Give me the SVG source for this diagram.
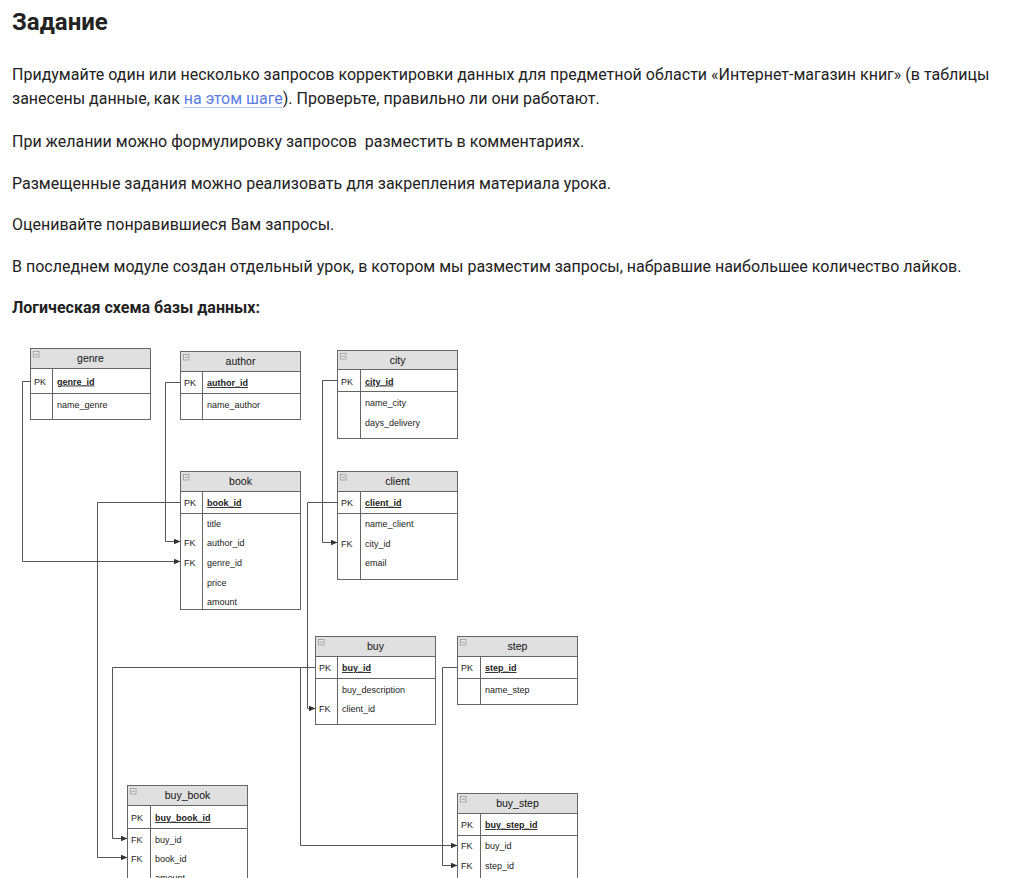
<svg xmlns="http://www.w3.org/2000/svg" width="1027" height="878" viewBox="0 0 1027 878">
<style>
.bg{fill:#fff}
.p{font-family:Roboto,"Noto Sans",sans-serif;font-size:16px;fill:#222}
.title{font-family:Roboto,"Noto Sans",sans-serif;font-size:24px;font-weight:700;fill:#222}
.sub{font-family:Roboto,"Noto Sans",sans-serif;font-size:16px;font-weight:700;fill:#222}
.link{fill:#5a7de6}
.bd{fill:#fff;stroke:#666;stroke-width:1}
.hd{fill:#e0e0e0;stroke:#666;stroke-width:1}
.ln{fill:none;stroke:#666;stroke-width:1}
.ic{fill:#e8e8e8;stroke:#999;stroke-width:0.8}
.t{font-family:"Liberation Sans",Arial,sans-serif;font-size:9px;fill:#222}
.pk{font-weight:bold;text-decoration:underline}
.h{font-family:"Liberation Sans",Arial,sans-serif;font-size:10.5px;fill:#111;text-anchor:middle}
.conn path{fill:none;stroke:#555;stroke-width:1}
</style>
<defs>
<marker id="arr" markerWidth="7" markerHeight="6" refX="7" refY="3" orient="auto" markerUnits="userSpaceOnUse">
<path d="M0,0L7,3L0,6z" fill="#333"/>
</marker>
<g id="minus"><rect class="ic" x="0" y="0" width="5.5" height="5.5"/><path d="M1.2,2.75H4.3" stroke="#888" stroke-width="0.8"/></g>
</defs>
<rect class="bg" x="0" y="0" width="1027" height="878"/>

<g id="text">
<text class="title" x="12" y="29.5">Задание</text>
<text class="p" x="12" y="80">Придумайте один или несколько запросов корректировки данных для предметной области «Интернет-магазин книг» (в таблицы</text>
<text class="p" x="12" y="104">занесены данные, как <tspan class="link">на этом шаге</tspan>). Проверьте, правильно ли они работают.</text>
<line x1="183" y1="107.5" x2="282" y2="107.5" stroke="#b5c6f2" stroke-width="1"/>
<text class="p" x="12" y="147" xml:space="preserve">При желании можно формулировку запросов  разместить в комментариях.</text>
<text class="p" x="12" y="188.5">Размещенные задания можно реализовать для закрепления материала урока.</text>
<text class="p" x="12" y="230">Оценивайте понравившиеся Вам запросы.</text>
<text class="p" x="12" y="271.5">В последнем модуле создан отдельный урок, в котором мы разместим запросы, набравшие наибольшее количество лайков.</text>
<text class="sub" x="12" y="312.5">Логическая схема базы данных:</text>
</g>

<g id="connectors" class="conn">
<path d="M30.5,381.5H22.5V561.5H180.5" marker-end="url(#arr)"/>
<path d="M180.5,382.5H165.5V541.5H180.5" marker-end="url(#arr)"/>
<path d="M337.5,380.5H322.5V542.5H337.5" marker-end="url(#arr)"/>
<path d="M180.5,502.5H97.5V857.5H127.5" marker-end="url(#arr)"/>
<path d="M337.5,502.5H307.5V708.5H315.5" marker-end="url(#arr)"/>
<path d="M315.5,667.5H112.5V838.5H127.5" marker-end="url(#arr)"/>
<path d="M315.5,667.5H300.5V845.5H457.5" marker-end="url(#arr)"/>
<path d="M457.5,667.5H442.5V865.5H457.5" marker-end="url(#arr)"/>
</g>

<g id="genre">
<rect class="bd" x="30.5" y="348.5" width="120" height="71"/>
<rect class="hd" x="30.5" y="348.5" width="120" height="20"/>
<path class="ln" d="M30.5,393.5H150.5M52.5,368.5V419.5"/>
<use href="#minus" x="33.5" y="351.5"/>
<text class="h" x="90.5" y="362">genre</text>
<text class="t" x="34" y="384.5">PK</text><text class="t pk" x="57" y="384.5">genre_id</text>
<text class="t" x="57" y="407.5">name_genre</text>
</g>

<g id="author">
<rect class="bd" x="180.5" y="351.5" width="120" height="68"/>
<rect class="hd" x="180.5" y="351.5" width="120" height="20"/>
<path class="ln" d="M180.5,393.5H300.5M202.5,371.5V419.5"/>
<use href="#minus" x="183.5" y="354.5"/>
<text class="h" x="240.5" y="365">author</text>
<text class="t" x="184" y="386">PK</text><text class="t pk" x="207" y="386">author_id</text>
<text class="t" x="207" y="407.5">name_author</text>
</g>

<g id="book">
<rect class="bd" x="180.5" y="471.5" width="120" height="138"/>
<rect class="hd" x="180.5" y="471.5" width="120" height="20"/>
<path class="ln" d="M180.5,513.5H300.5M202.5,491.5V609.5"/>
<use href="#minus" x="183.5" y="474.5"/>
<text class="h" x="240.5" y="485">book</text>
<text class="t" x="184" y="506">PK</text><text class="t pk" x="207" y="506">book_id</text>
<text class="t" x="207" y="526.5">title</text>
<text class="t" x="184" y="546">FK</text><text class="t" x="207" y="546">author_id</text>
<text class="t" x="184" y="566">FK</text><text class="t" x="207" y="566">genre_id</text>
<text class="t" x="207" y="585.5">price</text>
<text class="t" x="207" y="605">amount</text>
</g>

<g id="city">
<rect class="bd" x="337.5" y="350.5" width="120" height="88"/>
<rect class="hd" x="337.5" y="350.5" width="120" height="19"/>
<path class="ln" d="M337.5,391.5H457.5M360.5,369.5V438.5"/>
<use href="#minus" x="340.5" y="353.5"/>
<text class="h" x="397.5" y="364">city</text>
<text class="t" x="341" y="384.5">PK</text><text class="t pk" x="365" y="384.5">city_id</text>
<text class="t" x="365" y="405.5">name_city</text>
<text class="t" x="365" y="425.5">days_delivery</text>
</g>

<g id="client">
<rect class="bd" x="337.5" y="471.5" width="120" height="108"/>
<rect class="hd" x="337.5" y="471.5" width="120" height="20"/>
<path class="ln" d="M337.5,513.5H457.5M360.5,491.5V579.5"/>
<use href="#minus" x="340.5" y="474.5"/>
<text class="h" x="397.5" y="485">client</text>
<text class="t" x="341" y="506">PK</text><text class="t pk" x="365" y="506">client_id</text>
<text class="t" x="365" y="527">name_client</text>
<text class="t" x="341" y="546.5">FK</text><text class="t" x="365" y="546.5">city_id</text>
<text class="t" x="365" y="566">email</text>
</g>

<g id="buy">
<rect class="bd" x="315.5" y="636.5" width="120" height="88"/>
<rect class="hd" x="315.5" y="636.5" width="120" height="20"/>
<path class="ln" d="M315.5,678.5H435.5M337.5,656.5V724.5"/>
<use href="#minus" x="318.5" y="639.5"/>
<text class="h" x="375.5" y="650">buy</text>
<text class="t" x="319" y="671">PK</text><text class="t pk" x="342" y="671">buy_id</text>
<text class="t" x="342" y="692.5">buy_description</text>
<text class="t" x="319" y="711.5">FK</text><text class="t" x="342" y="711.5">client_id</text>
</g>

<g id="step">
<rect class="bd" x="457.5" y="636.5" width="120" height="68"/>
<rect class="hd" x="457.5" y="636.5" width="120" height="20"/>
<path class="ln" d="M457.5,678.5H577.5M480.5,656.5V704.5"/>
<use href="#minus" x="460.5" y="639.5"/>
<text class="h" x="517.5" y="650">step</text>
<text class="t" x="461" y="671">PK</text><text class="t pk" x="485" y="671">step_id</text>
<text class="t" x="485" y="692.5">name_step</text>
</g>

<g id="buy_step">
<rect class="bd" x="457.5" y="793.5" width="120" height="100"/>
<rect class="hd" x="457.5" y="793.5" width="120" height="20"/>
<path class="ln" d="M457.5,835.5H577.5M480.5,813.5V893.5"/>
<use href="#minus" x="460.5" y="796.5"/>
<text class="h" x="517.5" y="807">buy_step</text>
<text class="t" x="461" y="828">PK</text><text class="t pk" x="485" y="828">buy_step_id</text>
<text class="t" x="461" y="849">FK</text><text class="t" x="485" y="849">buy_id</text>
<text class="t" x="461" y="869">FK</text><text class="t" x="485" y="869">step_id</text>
</g>

<g id="buy_book">
<rect class="bd" x="127.5" y="785.5" width="120" height="100"/>
<rect class="hd" x="127.5" y="785.5" width="120" height="20"/>
<path class="ln" d="M127.5,828.5H247.5M150.5,805.5V885.5"/>
<use href="#minus" x="130.5" y="788.5"/>
<text class="h" x="187.5" y="799">buy_book</text>
<text class="t" x="131" y="821">PK</text><text class="t pk" x="155" y="821">buy_book_id</text>
<text class="t" x="131" y="842.5">FK</text><text class="t" x="155" y="842.5">buy_id</text>
<text class="t" x="131" y="861.5">FK</text><text class="t" x="155" y="861.5">book_id</text>
<text class="t" x="155" y="881">amount</text>
</g>
</svg>
